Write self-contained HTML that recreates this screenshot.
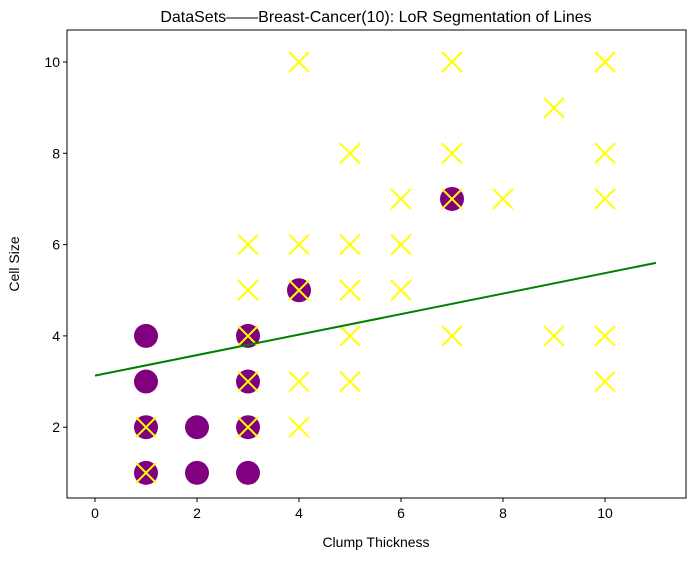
<!DOCTYPE html>
<html><head><meta charset="utf-8"><style>
body{margin:0;background:#fff;}
svg text{font-family:"Liberation Sans","Noto Sans CJK SC",sans-serif;}
</style></head><body>
<svg id="chart" width="698" height="556" xmlns="http://www.w3.org/2000/svg">
<rect width="698" height="556" fill="#fff"/>
<text x="376" y="22" font-size="16" text-anchor="middle">DataSets——Breast-Cancer(10): LoR Segmentation of Lines</text>
<g id="marks"></g>
<rect x="67" y="30" width="619" height="468" fill="none" stroke="#000" stroke-width="1"/>
<g id="axes"></g>
<text x="376" y="547" font-size="14" text-anchor="middle">Clump Thickness</text>
<text x="19" y="264" font-size="14" text-anchor="middle" transform="rotate(-90 19 264)">Cell Size</text>
</svg>
<script>
const xTicks=[0,2,4,6,8,10];
const yTicks=[2,4,6,8,10];
const circleX=[1,1,1,1,2,2,3,3,3,3,4,7];
const circleY=[4,3,2,1,2,1,4,3,2,1,5,7];
const crossX=[1,1,3,3,3,3,3,4,4,4,4,4,5,5,5,5,5,6,6,6,7,7,7,7,8,9,9,10,10,10,10,10];
const crossY=[2,1,6,5,4,3,2,10,6,5,3,2,8,6,5,4,3,7,6,5,10,8,7,4,7,9,4,10,8,7,4,3];
const lineX=[0,11];
const lineY=[3.13,5.6];
const NS="http://www.w3.org/2000/svg";
function sx(v){return 95+v*51;}
function sy(v){return 518.5-v*45.65;}
const marks=document.getElementById('marks'),axes=document.getElementById('axes');
function mk(tag,attrs,parent){const e=document.createElementNS(NS,tag);for(const k in attrs)e.setAttribute(k,attrs[k]);parent.appendChild(e);return e;}
for(let i=0;i<circleX.length;i++){
 const c=mk('circle',{cx:sx(circleX[i]),cy:sy(circleY[i]),r:12,fill:'#800080'},marks);
 
 
}
for(let i=0;i<crossX.length;i++){
 const x=sx(crossX[i]),y=sy(crossY[i]),d=10;
 const p=mk('path',{d:`M${x-d},${y-d}L${x+d},${y+d}M${x-d},${y+d}L${x+d},${y-d}`,stroke:'#ffff00','stroke-width':2,fill:'none'},marks);
 
 
}
const l=mk('line',{x1:sx(lineX[0]),y1:sy(lineY[0]),x2:sx(lineX[1]),y2:sy(lineY[1]),stroke:'#008000','stroke-width':2},marks);


xTicks.forEach(t=>{
 mk('line',{x1:sx(t),y1:498,x2:sx(t),y2:502,stroke:'#000'},axes);
 const tx=mk('text',{x:sx(t),y:518,'font-size':14,'text-anchor':'middle'},axes);
 tx.textContent=t;
 
 
});
yTicks.forEach(t=>{
 mk('line',{x1:63,y1:sy(t),x2:67,y2:sy(t),stroke:'#000'},axes);
 const tx=mk('text',{x:60,y:sy(t)+5,'font-size':14,'text-anchor':'end'},axes);
 tx.textContent=t;
 
 
});
</script>
</body></html>
